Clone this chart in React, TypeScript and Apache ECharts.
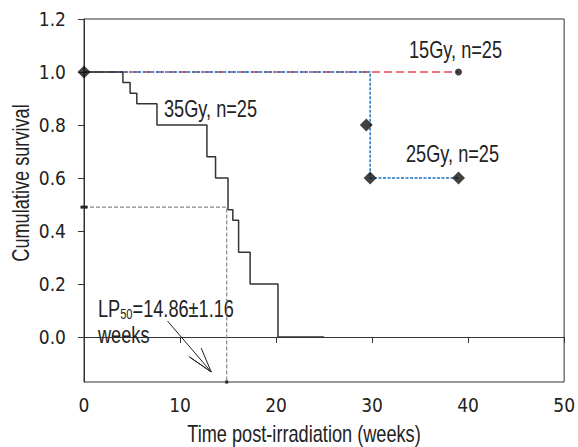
import React, { useEffect, useRef } from "react";
import * as echarts from "echarts";

const AXIS_FONT = "'DejaVu Sans Condensed', 'Liberation Sans', sans-serif";
const TEXT_FONT = "'Liberation Sans', Arial, sans-serif";
const SQUEEZE = 0.79;

const xTicks = [0, 10, 20, 30, 40, 50];
const yTicks = [0, 0.2, 0.4, 0.6, 0.8, 1.0, 1.2];

// 35Gy Kaplan-Meier steps (time in weeks, survival after the event)
const time35 = [0, 4.05, 4.8, 5.5, 7.6, 12.8, 13.7, 15.0, 15.5, 16.1, 17.3, 20.2, 25.0];
const surv35 = [1.0, 0.96, 0.92, 0.88, 0.8, 0.68, 0.6, 0.48, 0.44, 0.32, 0.2, 0.0, 0.0];

// 15Gy
const time15 = [0, 39];
const surv15 = [1.0, 1.0];

// 25Gy
const time25 = [0, 29.8, 39];
const surv25 = [1.0, 0.6, 0.6];
const markTime25 = [0, 29.4, 29.8, 39];
const markSurv25 = [1.0, 0.8, 0.6, 0.6];

// LP50 guide
const lp50Time = [0, 14.86, 14.86];
const lp50Surv = [0.49, 0.49, -0.17];

// arrow (shaft + open head)
const arrowTime = [8.7, 13.25, 10.97, 13.25, 12.2];
const arrowSurv = [0.06, -0.132, -0.075, -0.132, -0.042];

const pairs = (xs: number[], ys: number[]) => xs.map((x, i) => [x, ys[i]]);

export default function App() {
  const ref = useRef<HTMLDivElement>(null);
  useEffect(() => {
    if (!ref.current) return;
    const chart = echarts.init(ref.current, null, { renderer: "svg" });
    const textStyle = { fontFamily: TEXT_FONT, fill: "#222", fontSize: 23 };
    const label = (text: string, x: number, y: number, extra: any = {}) => ({
      type: "text",
      x,
      y,
      scaleX: SQUEEZE,
      ...extra,
      style: { ...textStyle, text, textVerticalAlign: "middle", ...(extra.style || {}) },
    });
    chart.setOption({
      animation: false,
      backgroundColor: "#fff",
      grid: {
        left: 84,
        right: 11,
        top: 19,
        bottom: 65,
        show: true,
        borderColor: "#333",
        borderWidth: 1,
        backgroundColor: "transparent",
      },
      xAxis: {
        type: "value",
        min: xTicks[0],
        max: xTicks[xTicks.length - 1],
        interval: 10,
        axisLine: { show: true, lineStyle: { color: "#333", width: 1 } },
        axisTick: { show: true, inside: false, length: 6, lineStyle: { color: "#333" } },
        axisLabel: { fontSize: 19, color: "#222", fontFamily: AXIS_FONT, margin: 13 },
        splitLine: { show: false },
      },
      yAxis: {
        type: "value",
        min: -0.17,
        max: 1.2,
        axisLine: { show: true, lineStyle: { color: "#333", width: 1 } },
        axisTick: { show: true, inside: false, length: 6, customValues: yTicks, lineStyle: { color: "#333" } },
        axisLabel: {
          fontSize: 19,
          color: "#222",
          fontFamily: AXIS_FONT,
          margin: 18,
          customValues: yTicks,
          formatter: (v: number) => v.toFixed(1),
        },
        splitLine: { show: false },
      },
      series: [
        {
          name: "15Gy",
          type: "line",
          data: pairs(time15, surv15),
          symbol: "none",
          lineStyle: { color: "#e5484f", width: 1.6, type: [8, 4] },
          z: 2,
        },
        {
          name: "15Gy end",
          type: "scatter",
          data: [[time15[1], surv15[1]]],
          symbol: "circle",
          symbolSize: 7,
          itemStyle: { color: "#111" },
          z: 5,
        },
        {
          name: "25Gy",
          type: "line",
          step: "end",
          data: pairs(time25, surv25),
          symbol: "none",
          lineStyle: { color: "#1f72bd", width: 1.5, type: [3, 1.5] },
          z: 3,
        },
        {
          name: "25Gy marks",
          type: "scatter",
          data: pairs(markTime25, markSurv25),
          symbol: "diamond",
          symbolSize: 13,
          itemStyle: { color: "#111" },
          z: 6,
        },
        {
          name: "35Gy",
          type: "line",
          step: "end",
          data: pairs(time35, surv35),
          symbol: "none",
          lineStyle: { color: "#333", width: 1.5 },
          z: 4,
        },
        {
          name: "LP50",
          type: "line",
          data: lp50Time.map((t, i) => ({
            value: [t, lp50Surv[i]],
            symbolSize: i === 0 ? [7, 3] : i === 2 ? [3, 3] : 0,
          })),
          symbol: "rect",
          showSymbol: true,
          itemStyle: { color: "#222" },
          lineStyle: { color: "#888", width: 1.2, type: [4, 2] },
          z: 2,
        },
        {
          name: "arrow",
          type: "line",
          data: pairs(arrowTime, arrowSurv),
          symbol: "none",
          lineStyle: { color: "#222", width: 1 },
          z: 5,
        },
      ],
      graphic: [
        label("15Gy, n=25", 409, 50),
        label("25Gy, n=25", 406, 154),
        label("35Gy, n=25", 164, 109),
        {
          type: "text",
          x: 98,
          y: 296,
          scaleX: SQUEEZE,
          style: {
            fontFamily: TEXT_FONT,
            fill: "#222",
            text: "{a|LP}{s|50}{a|=14.86±1.16}",
            rich: {
              a: { fontSize: 23, lineHeight: 26, fontFamily: TEXT_FONT, color: "#222" },
              s: { fontSize: 14, lineHeight: 14, fontFamily: TEXT_FONT, color: "#222", verticalAlign: "bottom" },
            },
          },
        },
        label("weeks", 98, 335),
        label("Time post-irradiation (weeks)", 304, 434, { style: { textAlign: "center" } }),
        label("Cumulative survival", 21, 183, { rotation: Math.PI / 2, style: { textAlign: "center" } }),
      ],
    });
    return () => chart.dispose();
  }, []);
  return <div ref={ref} style={{ width: 578, height: 447, position: "absolute", left: 0, top: 0 }} />;
}
